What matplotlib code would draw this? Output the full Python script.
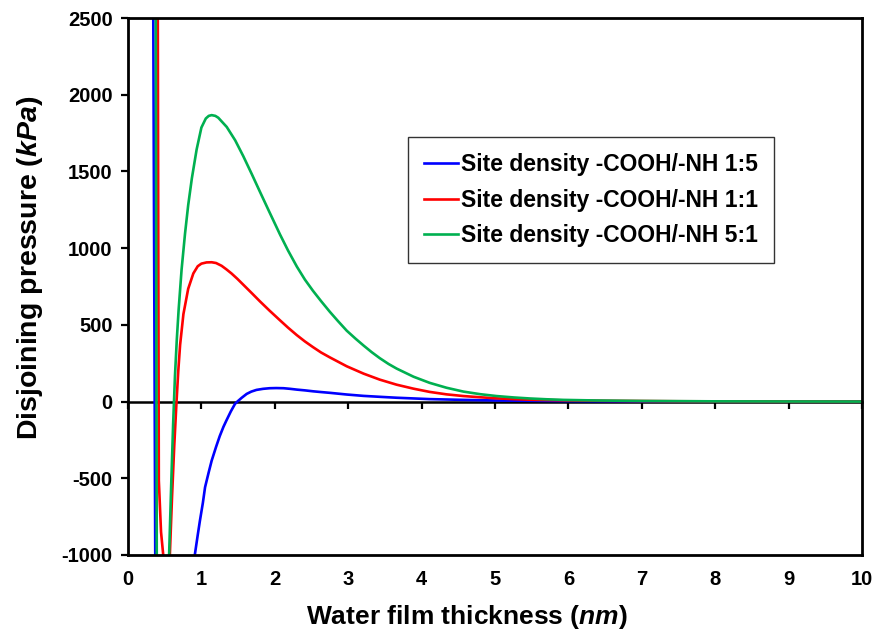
import numpy as np
import matplotlib.pyplot as plt

plt.rcParams['font.family'] = ['Liberation Sans', 'DejaVu Sans']
plt.rcParams['font.weight'] = 'bold'
plt.rcParams['axes.labelweight'] = 'bold'
plt.rcParams['axes.unicode_minus'] = False
plt.rcParams['mathtext.fontset'] = 'custom'
plt.rcParams['mathtext.it'] = 'Liberation Sans:italic:bold'
plt.rcParams['mathtext.rm'] = 'Liberation Sans:bold'

# values (thickness in nm, pressure in kPa)
x_15 = [0.343, 0.372, 0.40, 0.85, 0.91, 0.95, 0.98, 1.02, 1.05, 1.10, 1.14, 1.20,
        1.25, 1.30, 1.34, 1.40, 1.458, 1.49, 1.55, 1.617, 1.68, 1.75, 1.84, 1.93,
        2.02, 2.12, 2.21, 2.30, 2.41, 2.52, 2.63, 2.75, 2.98, 3.21, 3.43, 3.66,
        4.11, 4.57, 5.02, 5.5, 6.0, 7.0, 8.5, 10.0]
p_15 = [2700, -1100, -3000, -1500, -1000, -870, -776, -660, -558, -460, -385, -295,
        -225, -165, -124, -65, -15, 0, 25, 50, 65, 76, 83, 87,
        88, 87, 83, 78, 73, 67, 62, 57, 46, 37, 31, 25,
        16, 11, 7, 5, 3, 1, 0.3, 0]

x_11 = [0.405, 0.42, 0.45, 0.48, 0.52, 0.55, 0.57, 0.60, 0.63, 0.66, 0.685, 0.71,
        0.755, 0.82, 0.89, 0.95, 1.00, 1.07, 1.14, 1.20, 1.275, 1.34, 1.41, 1.49,
        1.57, 1.69, 1.80, 1.93, 2.07, 2.18, 2.30, 2.41, 2.52, 2.63, 2.75, 2.98,
        3.21, 3.43, 3.66, 3.89, 4.11, 4.34, 4.57, 4.80, 5.02, 5.25, 5.48, 5.93,
        6.5, 7.5, 9.0, 10.0]
p_11 = [2700, -515, -850, -1000, -1200, -1100, -1000, -620, -290, -10, 200, 370,
        570, 735, 835, 882, 899, 907, 908, 903, 885, 862, 835, 800,
        762, 705, 652, 592, 530, 482, 433, 392, 355, 320, 288, 230,
        182, 143, 110, 84, 63, 47, 36, 28, 21, 16, 12, 8,
        5, 2, 0.5, 0]

x_51 = [0.378, 0.392, 0.42, 0.52, 0.56, 0.59, 0.615, 0.64, 0.665, 0.69, 0.73, 0.777,
        0.82, 0.87, 0.935, 1.00, 1.06, 1.10, 1.14, 1.19, 1.23, 1.345, 1.46, 1.57,
        1.685, 1.80, 1.92, 2.07, 2.18, 2.30, 2.41, 2.52, 2.63, 2.75, 2.86, 2.98,
        3.10, 3.21, 3.32, 3.43, 3.55, 3.66, 3.89, 4.11, 4.34, 4.57, 4.80, 5.02,
        5.25, 5.48, 5.70, 5.93, 6.39, 7.0, 8.0, 9.0, 10.0]
p_51 = [2700, -1100, -3000, -1600, -1000, -520, -145, 168, 405, 600, 860, 1095,
        1280, 1455, 1643, 1786, 1845, 1862, 1867, 1862, 1850, 1790, 1703, 1600,
        1484, 1365, 1242, 1090, 985, 880, 795, 722, 655, 585, 525, 462,
        410, 365, 322, 283, 245, 215, 162, 122, 90, 65, 48, 36,
        27, 20, 15, 11, 7, 4, 1.5, 0.5, 0]

labels = ['Site density -COOH/-NH 1:5', 'Site density -COOH/-NH 1:1',
          'Site density -COOH/-NH 5:1']
colors = ['#0000FF', '#FF0000', '#00B050']

fig = plt.figure(figsize=(8.74, 6.37), dpi=100)
ax = fig.add_axes([128/874, 1-555/637, 734/874, 537/637])

for xs, ps, lab, c in zip([x_15, x_11, x_51], [p_15, p_11, p_51], labels, colors):
    ax.plot(xs, ps, color=c, lw=1.9, label=lab, solid_joinstyle='round')

ax.set_xlim(0, 10)
ax.set_ylim(-1000, 2500)
ax.set_xticks(np.arange(0, 11, 1))
ax.set_yticks(np.arange(-1000, 2501, 500))
ax.tick_params(axis='x', length=0, pad=11, labelsize=14.5)
ax.tick_params(axis='y', direction='out', length=5, width=1.6, pad=6, labelsize=14.5)
for s in ax.spines.values():
    s.set_linewidth(2)

# horizontal axis crossing at zero with its tick marks
sec = ax.secondary_xaxis(1000/3500)
sec.set_xticks(np.arange(0, 11, 1))
sec.tick_params(labelbottom=False, direction='out', length=5, width=1.6)
sec.spines['bottom'].set_linewidth(1.8)

ax.set_xlabel('Water film thickness $\\mathit{(nm)}$', fontsize=19)
ax.set_ylabel('Disjoining pressure $\\mathit{(kPa)}$', fontsize=20.5)
ax.xaxis.set_label_coords(0.462, -0.090)
ax.yaxis.set_label_coords(-0.113, 0.534)

leg = ax.legend(loc='upper left', bbox_to_anchor=((408-128)/734, (555-137)/537),
                borderaxespad=0, fontsize=16.5, frameon=True, fancybox=False,
                edgecolor='black', handlelength=1.5, handletextpad=0.1,
                labelspacing=0.55, borderpad=0.7)
leg.get_frame().set_linewidth(1.0)

fig.savefig('out.png', dpi=100)
